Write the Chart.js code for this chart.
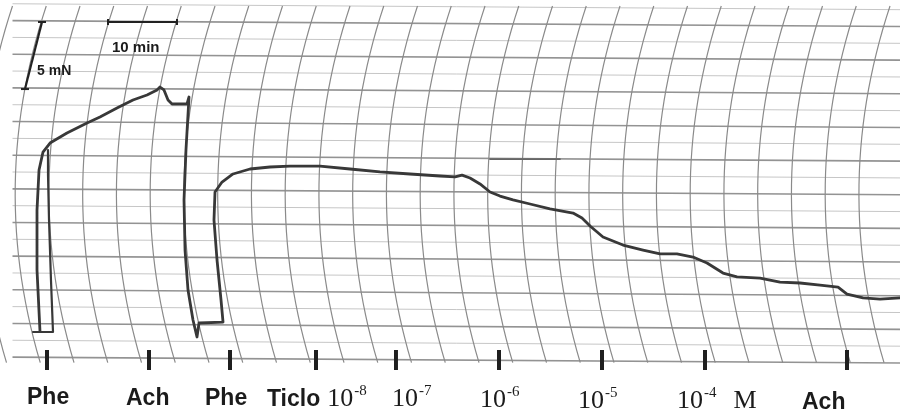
<!DOCTYPE html>
<html>
<head>
<meta charset="utf-8">
<script src="https://cdn.jsdelivr.net/npm/chart.js@4"></script>
<style>
  html, body { margin: 0; padding: 0; background: #fff; }
  #wrap { width: 900px; height: 419px; position: relative; }
</style>
</head>
<body>
<div id="wrap"><canvas id="traceChart"></canvas></div>
<script>
// recorder trace: time in min, force in mN
const phe1Time  = [3.04, 6.00, 5.70, 5.41, 5.26, 5.26];
const phe1Force = [2.08, 2.08, 5.94, 10.40, 13.74, 15.60];

const traceTime = [4.07, 3.63, 3.63, 3.93, 4.52, 5.56, 8.07, 11.04, 12.96, 15.48,
  17.85, 19.93, 21.41, 21.85, 22.44, 23.04, 23.63, 25.85, 26.15, 25.70,
  25.41, 25.56, 26.00, 26.74, 27.33, 27.63, 31.19, 30.89, 30.30, 29.85,
  30.00, 31.04, 32.67, 35.19, 38.15, 41.11, 45.56, 50.00, 54.44, 58.89,
  63.33, 65.56, 66.59, 67.78, 69.26, 70.74, 72.22, 74.15, 76.67, 79.63,
  83.04, 84.37, 85.56, 87.48, 90.44, 93.41, 95.93, 98.44, 100.81, 102.89,
  105.26, 107.33, 110.74, 113.70, 116.67, 119.63, 122.30, 123.63, 126.00, 128.52,
  131.48];
const traceForce = [2.15, 6.69, 11.14, 14.12, 15.45, 16.12, 16.86, 17.61, 18.05, 18.72,
  19.32, 19.69, 20.06, 20.28, 20.06, 19.32, 19.02, 19.02, 19.54, 15.60,
  11.89, 8.17, 5.20, 2.97, 1.71, 2.75, 2.82, 4.46, 7.43, 10.40,
  12.48, 13.22, 13.82, 14.19, 14.34, 14.41, 14.41, 14.19, 13.97, 13.82,
  13.67, 13.60, 13.74, 13.52, 13.08, 12.48, 12.18, 11.89, 11.59, 11.22,
  10.92, 10.55, 9.96, 9.14, 8.54, 8.17, 7.88, 7.88, 7.65, 7.21,
  6.46, 6.17, 6.09, 5.79, 5.72, 5.57, 5.42, 4.90, 4.61, 4.53,
  4.61];

// pencil mark across the paper
const noteTime  = [70.74, 81.11];
const noteForce = [14.93, 14.93];

// scale bars (5 mN, 10 min)
const forceBarTime  = [4.37, 1.85];
const forceBarForce = [25.11, 20.13];
const timeBarTime   = [14.15, 24.37];
const timeBarForce  = [25.11, 25.11];

// event marks on the baseline
const markTime   = [5.11, 20.22, 32.22, 44.96, 56.81, 72.07, 87.33, 102.59, 123.63];
const markLabels = ['Phe', 'Ach', 'Phe', 'Ticlo 10^-8', '10^-7', '10^-6', '10^-5', '10^-4 M', 'Ach'];

const zip = (xs, ys) => xs.map((x, i) => ({ x: x, y: ys[i] }));

const labelDx = [-20, -23, -25, -49, -4, -19, -24, -28, -45];

function drawLabel(ctx, text, x, base) {
  text.split(' ').forEach(function (tok) {
    const m = tok.match(/^10\^(-?\d+)$/);
    if (m) {
      ctx.font = '26px "Liberation Serif"';
      ctx.fillText('10', x, base);
      x += ctx.measureText('10').width + 1;
      ctx.font = '15px "Liberation Serif"';
      ctx.fillText(m[1], x, base - 11);
      x += ctx.measureText(m[1]).width + 17;
    } else if (tok === 'M') {
      ctx.font = '26px "Liberation Serif"';
      ctx.fillText(tok, x, base);
      x += ctx.measureText(tok).width + 8;
    } else {
      ctx.font = 'bold 23px "Liberation Sans"';
      ctx.fillText(tok, x, base);
      x += ctx.measureText(tok).width + 7;
    }
  });
}

const paperPlugin = {
  id: 'paper',
  beforeDatasetsDraw(chart) {
    const ctx = chart.ctx;
    const xs = chart.scales.x, ys = chart.scales.y;
    const x0 = xs.getPixelForValue(0), x1 = chart.width;
    ctx.save();
    // horizontal rulings, heavier every 2.5 mN
    for (let i = 0; i <= 21; i++) {
      const y = ys.getPixelForValue(i * 1.25);
      ctx.strokeStyle = i % 2 ? '#c6c6c6' : '#939393';
      ctx.lineWidth = i % 2 ? 1 : 1.6;
      ctx.beginPath();
      ctx.moveTo(x0, y - 3 * (450 - x0) / 450);
      ctx.lineTo(x1, y + 3 * (x1 - 450) / 450);
      ctx.stroke();
    }
    // curved time lines every 5 min
    const yTop = ys.getPixelForValue(26.3), yBot = ys.getPixelForValue(-0.2);
    ctx.strokeStyle = '#8a8a8a';
    ctx.lineWidth = 1.2;
    for (let t = 0; t <= 130; t += 5) {
      const xt = xs.getPixelForValue(t);
      ctx.beginPath();
      for (let j = 0; j <= 30; j++) {
        const u = j / 30;
        const x = xt - 112 * u * (1 - u) - 6 * u;
        const y = yTop + (yBot - yTop) * u;
        if (j) ctx.lineTo(x, y); else ctx.moveTo(x, y);
      }
      ctx.stroke();
    }
    ctx.restore();
  },
  afterDraw(chart) {
    const ctx = chart.ctx;
    const xs = chart.scales.x, ys = chart.scales.y;
    ctx.save();
    ctx.fillStyle = '#1b1b1b';
    ctx.textBaseline = 'alphabetic';
    markLabels.forEach(function (lab, i) {
      const px = xs.getPixelForValue(markTime[i]);
      drawLabel(ctx, lab, px + labelDx[i], 404 + px * 0.006);
    });
    ctx.font = 'bold 14px "Liberation Sans"';
    ctx.fillText('5 mN', xs.getPixelForValue(3.63), ys.getPixelForValue(21.17));
    ctx.font = 'bold 15px "Liberation Sans"';
    ctx.fillText('10 min', xs.getPixelForValue(14.74), ys.getPixelForValue(22.88));
    ctx.restore();
  }
};

const traceStyle = {
  showLine: true, pointRadius: 0, borderColor: '#383838', borderWidth: 2.8,
  borderJoinStyle: 'round', borderCapStyle: 'round', fill: false, tension: 0
};

new Chart(document.getElementById('traceChart'), {
  type: 'scatter',
  data: {
    datasets: [
      Object.assign({ label: 'Phe 1', data: zip(phe1Time, phe1Force) }, traceStyle, { borderWidth: 2.2 }),
      Object.assign({ label: 'Force', data: zip(traceTime, traceForce) }, traceStyle),
      Object.assign({ label: 'note', data: zip(noteTime, noteForce) }, traceStyle, { borderColor: '#666', borderWidth: 1.8 }),
      {
        label: '5 mN', data: zip(forceBarTime, forceBarForce), showLine: true,
        borderColor: '#222', borderWidth: 2.2, pointStyle: 'line', pointRadius: 4,
        pointBorderColor: '#222', pointBorderWidth: 2
      },
      {
        label: '10 min', data: zip(timeBarTime, timeBarForce), showLine: true,
        borderColor: '#222', borderWidth: 2.2, pointStyle: 'line', pointRadius: 3,
        pointRotation: 90, pointBorderColor: '#222', pointBorderWidth: 2
      },
      {
        label: 'marks', data: markTime.map(t => ({ x: t, y: 0 })), showLine: false,
        pointStyle: 'line', pointRadius: 10, pointRotation: 90,
        pointBorderColor: '#1f1f1f', pointBorderWidth: 4
      }
    ]
  },
  options: {
    responsive: true,
    maintainAspectRatio: false,
    animation: false,
    events: [],
    layout: { padding: 0, autoPadding: false },
    plugins: { legend: { display: false }, tooltip: { enabled: false } },
    scales: {
      x: { type: 'linear', min: -1.852, max: 131.48, display: false },
      y: { type: 'linear', min: -4.383, max: 26.746, display: false }
    }
  },
  plugins: [paperPlugin]
});
</script>
</body>
</html>
